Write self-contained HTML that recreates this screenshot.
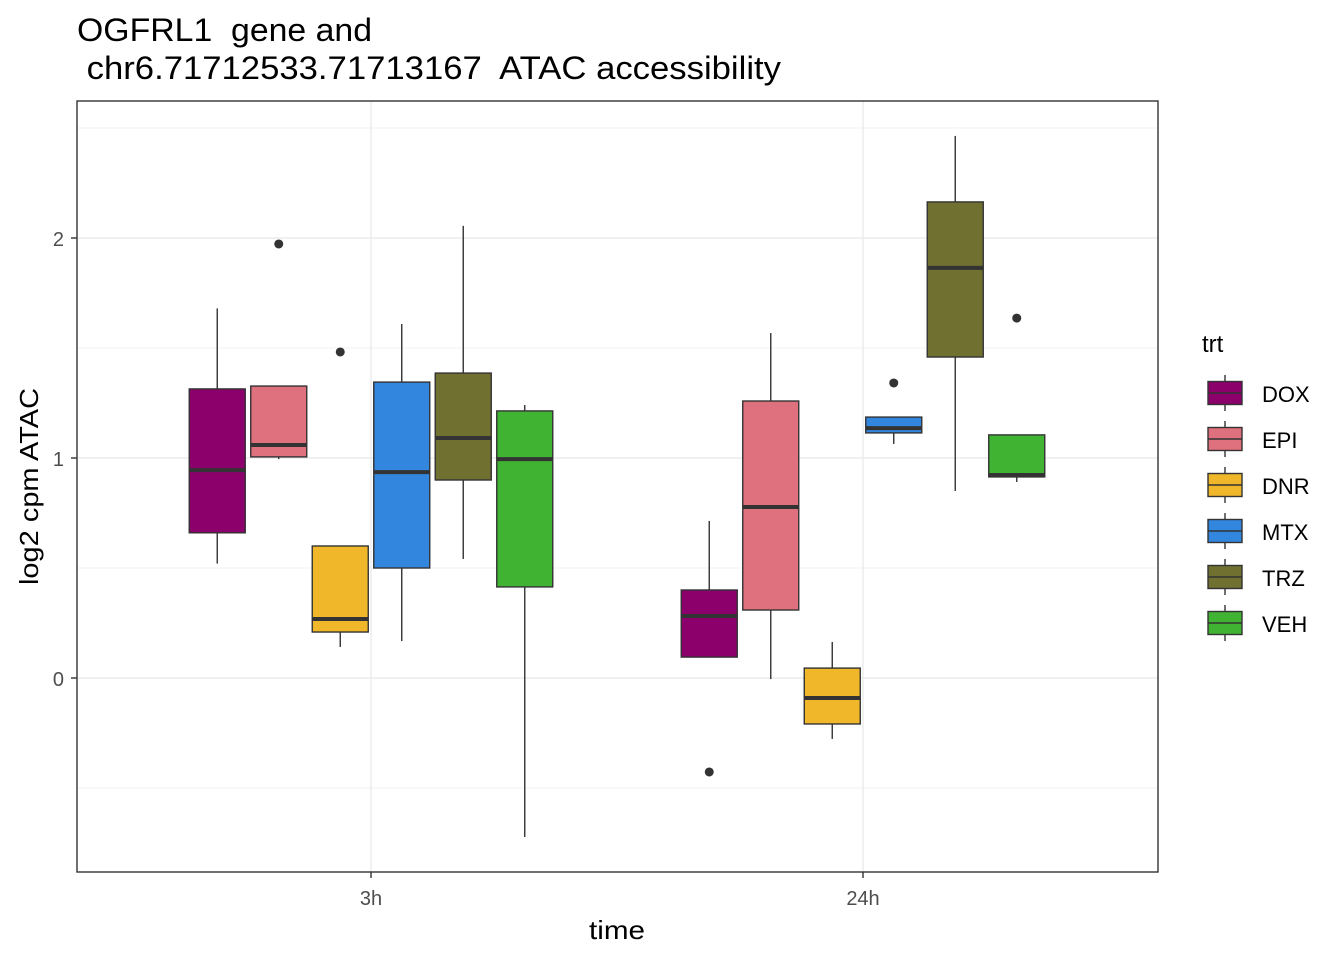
<!DOCTYPE html>
<html><head><meta charset="utf-8"><style>
body{margin:0;background:#fff}
svg{display:block;font-family:"Liberation Sans",sans-serif}
text{white-space:pre}
</style></head><body>
<svg id="chart" width="1344" height="960">
<rect width="1344" height="960" fill="#fff"/>
<text x="77" y="41" font-size="32" textLength="295" lengthAdjust="spacingAndGlyphs" fill="#000">OGFRL1  gene and</text>
<text x="77" y="79" font-size="32" textLength="704" lengthAdjust="spacingAndGlyphs" fill="#000"> chr6.71712533.71713167  ATAC accessibility</text>
<g id="grid"></g>
<g id="boxes"></g>
<rect x="77" y="101" width="1081" height="771" fill="none" stroke="#333" stroke-width="1.4"/>
<g id="axes"></g>
<text x="589" y="939" font-size="26" textLength="56" lengthAdjust="spacingAndGlyphs">time</text>
<text transform="translate(38,585) rotate(-90)" font-size="26" textLength="197" lengthAdjust="spacingAndGlyphs">log2 cpm ATAC</text>
<text x="1202" y="352" font-size="24">trt</text>
<g id="legend"></g>
</svg>
<script>
const times=["3h","24h"];
const trts=["DOX","EPI","DNR","MTX","TRZ","VEH"];
const colors=["#8B006B","#DF707E","#F1B72B","#3386DD","#707031","#41B333"];
// [low, q1, median, q3, high] per trt, per time
const stats3h=[[0.52,0.66,0.945,1.314,1.68],[0.995,1.005,1.059,1.327,1.327],[0.141,0.209,0.268,0.6,0.6],[0.168,0.5,0.936,1.345,1.609],[0.541,0.9,1.091,1.386,2.055],[-0.723,0.414,0.995,1.214,1.241]];
const stats24h=[[0.095,0.095,0.282,0.4,0.714],[-0.005,0.309,0.777,1.259,1.568],[-0.277,-0.209,-0.091,0.045,0.164],[1.064,1.114,1.136,1.186,1.186],[0.85,1.459,1.864,2.164,2.464],[0.891,0.914,0.923,1.105,1.105]];
const outliers3h=[[],[1.973],[1.482],[],[],[]];
const outliers24h=[[-0.427],[],[],[1.341],[],[1.636]];
const yTicks=[0,1,2];
const yMinor=[-0.5,0.5,1.5,2.5];

const NS="http://www.w3.org/2000/svg";
const y=v=>678-220*v;
const xc=i=>371+492*i;
const dodge=j=>(j-2.5)*61.5;
const BW=56;
function mk(tag,attrs,parent){const e=document.createElementNS(NS,tag);for(const k in attrs)e.setAttribute(k,attrs[k]);parent.appendChild(e);return e;}
const grid=document.getElementById('grid'),boxes=document.getElementById('boxes'),axes=document.getElementById('axes'),legend=document.getElementById('legend');
yMinor.forEach(v=>{const l=mk('line',{x1:77,x2:1158,y1:y(v),y2:y(v),stroke:'#f2f2f2','stroke-width':1},grid);

});
yTicks.forEach(v=>{const l=mk('line',{x1:77,x2:1158,y1:y(v),y2:y(v),stroke:'#ebebeb','stroke-width':1.4},grid);


const t=mk('line',{x1:71,x2:77,y1:y(v),y2:y(v),stroke:'#333','stroke-width':1.4},axes);


const tx=mk('text',{x:64,y:y(v)+8,'font-size':20,'text-anchor':'end',fill:'#4d4d4d'},axes);tx.textContent=v;

});
times.forEach((tm,i)=>{const l=mk('line',{x1:xc(i),x2:xc(i),y1:101,y2:872,stroke:'#ebebeb','stroke-width':1.4},grid);


const t=mk('line',{x1:xc(i),x2:xc(i),y1:872,y2:878,stroke:'#333','stroke-width':1.4},axes);


const tx=mk('text',{x:xc(i),y:905,'font-size':20,'text-anchor':'middle',fill:'#4d4d4d'},axes);tx.textContent=tm;

});
const allStats=[stats3h,stats24h],allOut=[outliers3h,outliers24h];
allStats.forEach((st,i)=>st.forEach((s,j)=>{
const cx=xc(i)+dodge(j);
const g=mk('g',{},boxes);


mk('line',{x1:cx,x2:cx,y1:y(s[4]),y2:y(s[3]),stroke:'#333','stroke-width':1.4},g);
mk('line',{x1:cx,x2:cx,y1:y(s[1]),y2:y(s[0]),stroke:'#333','stroke-width':1.4},g);
mk('rect',{x:cx-BW/2,y:y(s[3]),width:BW,height:Math.max(0.5,y(s[1])-y(s[3])),fill:colors[j],stroke:'#333','stroke-width':1.4},g);
mk('line',{x1:cx-BW/2,x2:cx+BW/2,y1:y(s[2]),y2:y(s[2]),stroke:'#333','stroke-width':4},g);
allOut[i][j].forEach(o=>{const c=mk('circle',{cx:cx,cy:y(o),r:4.5,fill:'#333'},g);

});
}));
trts.forEach((t,j)=>{const cy=393+46*j;
const g=mk('g',{},legend);


mk('line',{x1:1225,x2:1225,y1:cy-18,y2:cy+18,stroke:'#333','stroke-width':1.4},g);
mk('rect',{x:1208,y:cy-11.5,width:34,height:23,fill:colors[j],stroke:'#333','stroke-width':1.4},g);
mk('line',{x1:1208,x2:1242,y1:cy,y2:cy,stroke:'#333','stroke-width':1.4},g);
const tx=mk('text',{x:1262,y:cy+9,'font-size':22},g);tx.textContent=t;});
</script>
</body></html>
